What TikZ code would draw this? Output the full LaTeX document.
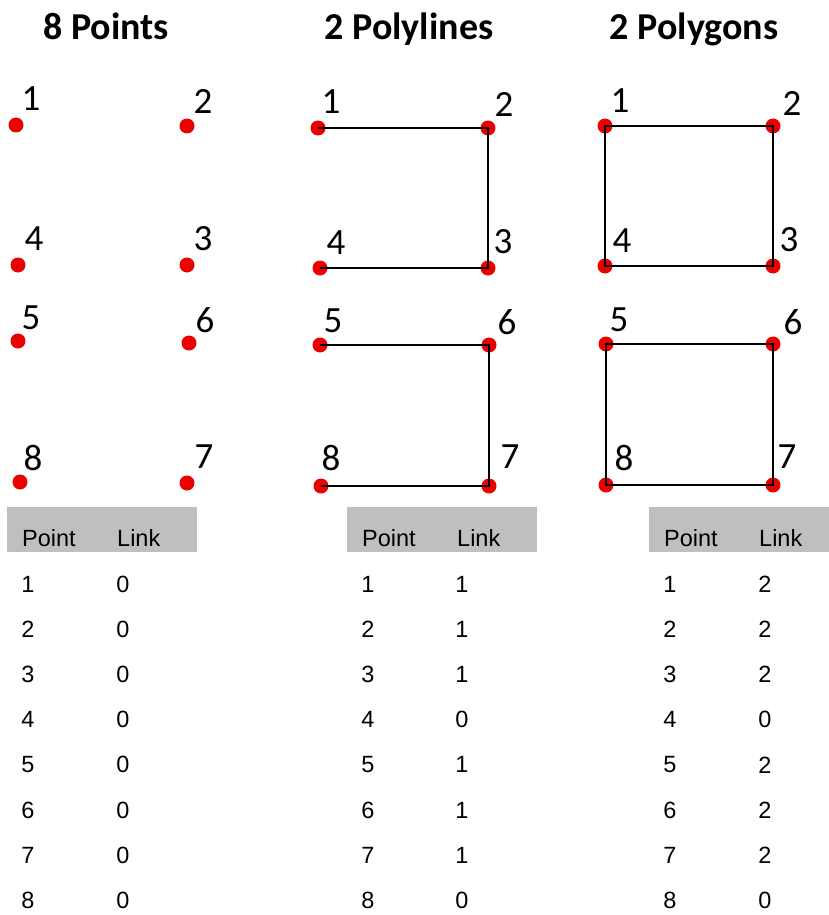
\documentclass[tikz,border=0pt]{standalone}
\usepackage{fontspec}
\setmainfont{Liberation Sans}
\newfontfamily\cali{Carlito}
\definecolor{hdrgray}{RGB}{191,191,191}
\definecolor{dotred}{RGB}{235,0,0}
\begin{document}
\begin{tikzpicture}[x=1pt,y=-1pt,
  dot/.style={circle,fill=dotred,inner sep=0pt,minimum size=15pt},
  lbl/.style={inner sep=0pt,font=\cali\fontsize{37}{37}\selectfont},
  ttl/.style={inner sep=0pt,anchor=base,font=\cali\bfseries\fontsize{38}{38}\selectfont},
  hdr/.style={fill=hdrgray,draw=none},
  htxt/.style={inner sep=0pt,anchor=west,font=\fontsize{23.5}{23.5}\selectfont},
  ctxt/.style={inner sep=0pt,font=\fontsize{23.5}{23.5}\selectfont},
  edge/.style={line width=2.2pt,black,line join=miter}]
\useasboundingbox (0,0) rectangle (829,915);
% titles
\node[ttl] (t1) at (106,40) {8 Points};
\node[ttl] (t2) at (409,40) {2 Polylines};
\node[ttl] (t3) at (694,40) {2 Polygons};
% column 1 points
\node[dot] (a1) at (16,125) {};
\node[dot] (a2) at (187,126) {};
\node[dot] (a3) at (187,265) {};
\node[dot] (a4) at (18,265) {};
\node[dot] (a5) at (18,341) {};
\node[dot] (a6) at (189,343) {};
\node[dot] (a7) at (187,483) {};
\node[dot] (a8) at (20,482) {};
\node[lbl] (la1) at (31,99) {1};
\node[lbl] (la2) at (203,101) {2};
\node[lbl] (la3) at (203,239) {3};
\node[lbl] (la4) at (34,239) {4};
\node[lbl] (la5) at (31,318) {5};
\node[lbl] (la6) at (205,320) {6};
\node[lbl] (la7) at (204,457) {7};
\node[lbl] (la8) at (33,458) {8};
% column 2 points
\node[dot] (b1) at (318,128) {};
\node[dot] (b2) at (488,128) {};
\node[dot] (b3) at (488,268) {};
\node[dot] (b4) at (320,268) {};
\node[dot] (b5) at (320,345) {};
\node[dot] (b6) at (489,345) {};
\node[dot] (b7) at (489,486) {};
\node[dot] (b8) at (321,486) {};
\node[lbl] (lb1) at (331,102) {1};
\node[lbl] (lb2) at (504,104) {2};
\node[lbl] (lb3) at (503,242) {3};
\node[lbl] (lb4) at (336,243) {4};
\node[lbl] (lb5) at (333,321) {5};
\node[lbl] (lb6) at (507,322) {6};
\node[lbl] (lb7) at (510,457) {7};
\node[lbl] (lb8) at (331,458) {8};
% column 3 points
\node[dot] (c1) at (605,126) {};
\node[dot] (c2) at (773,126) {};
\node[dot] (c3) at (773,266) {};
\node[dot] (c4) at (605,266) {};
\node[dot] (c5) at (606,344) {};
\node[dot] (c6) at (773,344) {};
\node[dot] (c7) at (773,485) {};
\node[dot] (c8) at (606,485) {};
\node[lbl] (lc1) at (620,101) {1};
\node[lbl] (lc2) at (792,103) {2};
\node[lbl] (lc3) at (789,240) {3};
\node[lbl] (lc4) at (622,241) {4};
\node[lbl] (lc5) at (619,320) {5};
\node[lbl] (lc6) at (793,322) {6};
\node[lbl] (lc7) at (787,457) {7};
\node[lbl] (lc8) at (624,458) {8};
% polylines
\draw[edge] (b1.center) -- (b2.center) -- (b3.center) -- (b4.center);
\draw[edge] (b5.center) -- (b6.center) -- (b7.center) -- (b8.center);
% polygons
\draw[edge] (c1.center) -- (c2.center) -- (c3.center) -- (c4.center) -- cycle;
\draw[edge] (c5.center) -- (c6.center) -- (c7.center) -- (c8.center) -- cycle;
% table headers
\fill[hdr] (7,507) rectangle (197,552);
\fill[hdr] (347,507) rectangle (537,552);
\fill[hdr] (649,507) rectangle (829,552);
\node[htxt] (h1p) at (22,538) {Point};
\node[htxt] (h1l) at (117,538) {Link};
\node[htxt] (h2p) at (362,538) {Point};
\node[htxt] (h2l) at (457,538) {Link};
\node[htxt] (h3p) at (664,538) {Point};
\node[htxt] (h3l) at (759,538) {Link};
% table rows
\foreach \i/\u/\v/\w in {1/0/1/2, 2/0/1/2, 3/0/1/2, 4/0/0/0, 5/0/1/2, 6/0/1/2, 7/0/1/2, 8/0/0/0}{
  \pgfmathsetmacro{\yy}{584+45.2*(\i-1)}
  \node[ctxt] (r1p\i) at (28,\yy) {\i};
  \node[ctxt] (r1l\i) at (123,\yy) {\u};
  \node[ctxt] (r2p\i) at (368,\yy) {\i};
  \node[ctxt] (r2l\i) at (462,\yy) {\v};
  \node[ctxt] (r3p\i) at (670,\yy) {\i};
  \node[ctxt] (r3l\i) at (765,\yy) {\w};
}
\end{tikzpicture}
\end{document}
